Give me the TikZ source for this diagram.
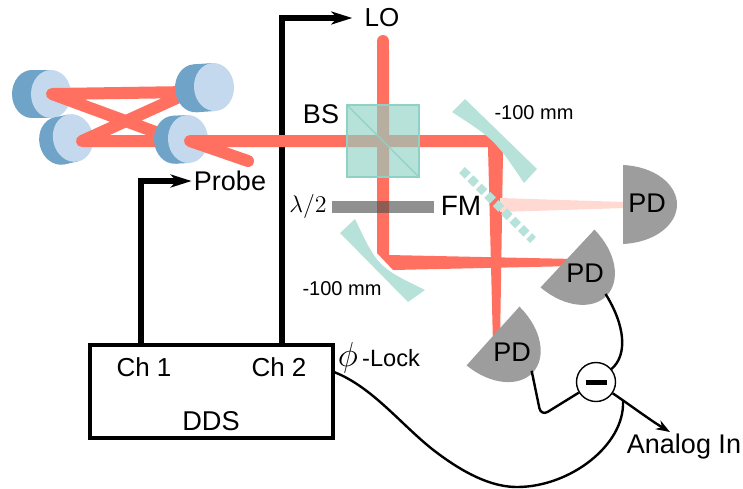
\documentclass[tikz,border=0pt]{standalone}
\usepackage{fontspec}
\setmainfont{Liberation Sans}
\usetikzlibrary{arrows.meta}

\definecolor{beamred}{HTML}{FF7060}
\definecolor{beampale}{HTML}{FFD9D2}
\definecolor{optteal}{RGB}{143,210,197}
\definecolor{mirteal}{HTML}{B7E2DA}
\definecolor{pdgray}{HTML}{9C9D9C}
\definecolor{cavback}{HTML}{6FA3C8}
\definecolor{cavfront}{HTML}{C5D9EE}

\tikzset{
  pics/cavmirror/.style={code={
    \fill[cavback] (-#1,0) ellipse (20 and 24);
    \fill[cavback] (-#1,-24) rectangle (0,24);
    \fill[cavfront] (0,0) ellipse (20 and 24);
  }},
  pics/photodiode/.style={code={
    \fill[pdgray] (0,-39.5) .. controls (32,-38) and (54,-20) .. (54,0)
      .. controls (54,20) and (32,38) .. (0,39.5) -- cycle;
    \coordinate (-out) at (52,0);
  }},
}

\begin{document}
\begin{tikzpicture}[
  x=0.5pt, y=-0.5pt,
  lbl/.style    ={inner sep=1pt, font=\fontsize{13}{15}\selectfont},
  big/.style    ={inner sep=1pt, font=\fontsize{13.5}{15}\selectfont},
  small/.style  ={inner sep=1pt, font=\fontsize{10}{12}\selectfont},
  beam/.style   ={draw=beamred, line width=6pt, line cap=round, line join=round},
  beamfill/.style={fill=beamred},
  rfline/.style ={line width=3pt, -{Stealth[length=10.5pt, width=6.5pt, inset=3pt]}},
  wire/.style   ={line width=1.2pt},
  ddsbox/.style ={draw, line width=1.7pt, minimum width=121.5pt, minimum height=46.5pt, inner sep=0pt},
  subnode/.style={draw, circle, fill=white, line width=0.7pt, minimum size=19.5pt, inner sep=0pt},
]
\useasboundingbox (0,0) rectangle (743,488);

\node[ddsbox] (dds) at (211.5,391.5) {};
\node[lbl] (ch1) at (144,367) {Ch 1};
\node[lbl] (ch2) at (279,367) {Ch 2};
\node[lbl, font=\fontsize{13.6}{15}\selectfont] (ddslbl) at (211,421) {DDS};
\node[big] (probe) at (230,181) {Probe};
\node[lbl] (lo) at (382,18) {LO};
\coordinate (ch1top) at (141,345);
\coordinate (ch2top) at (282,345);
\draw[rfline] (ch1top) |- (probe.west);
\draw[rfline, shorten >=5pt] (ch2top) |- (lo.west);

\pic at (51,94) {cavmirror=19};
\pic[rotate=12] at (73,138) {cavmirror=14};
\draw[beam] (190,92) -- (52,94) -- (180,141) -- (82,141) -- (190,92);
\pic[rotate=4] at (214,87) {cavmirror=19};
\pic[rotate=3] at (188,139) {cavmirror=14};
\draw[beam] (248,161) -- (190,141) -- (340,141);
\fill[beamfill] (340,135) -- (487,135) -- (503,152) -- (500,345) -- (493,345) -- (488,147) -- (340,147) -- cycle;
\draw[beam] (383,41) -- (383,60);
\fill[beamfill] (377,50) -- (377,253) -- (393,270) -- (575,266) -- (575,259) -- (389,255) -- (389,50) -- cycle;
\fill[beampale] (500,198) -- (625,202) -- (625,208) -- (500,212) -- cycle;

\fill[mirteal] (465,99) -- (537,169) -- (524,183) .. controls (495,140) .. (452,112) -- cycle;
\fill[mirteal] (355,219) .. controls (378,267) .. (425,290) -- (408,302) -- (340,233) -- cycle;
\draw[mirteal, line width=4.2pt, dash pattern=on 4pt off 1.9pt] (462,170) -- (533,240);

\draw[draw=optteal, fill=optteal, fill opacity=0.64, line width=0.7pt] (347,105) rectangle (419,177);
\draw[optteal, line width=0.7pt] (347,105) -- (419,177);
\fill[black!69, fill opacity=0.63] (332,201) rectangle (434,213);

\pic (pdtop) at (623,204.5) {photodiode};
\pic[rotate=-43] (pdmid) at (567.5,258.5) {photodiode};
\pic[rotate=-42] (pdlow) at (493,336) {photodiode};
\node[big] (pdtoplbl) at (647,203) {PD};
\node[big] (pdmidlbl) at (585,273) {PD};
\node[big] (pdlowlbl) at (512,352) {PD};

\node[subnode] (sub) at (596,382) {\rule{10.5pt}{2.5pt}};
\node[lbl, font=\fontsize{13.5}{15}\selectfont] (analog) at (684,447) {Analog In};
\draw[wire] (pdmid-out) .. controls (625,325) and (628,355) .. (sub);
\draw[wire, rounded corners=4pt] (pdlow-out) -- (541,416) -- (sub);
\draw[wire, -{Stealth[length=7pt, width=5pt]}] (sub) .. controls (630,405) and (650,420) .. (analog.north -| 670,436);
\coordinate (lockout) at (334,372);
\coordinate (lockend) at (623,401);
\draw[wire] (lockout) .. controls (375,388) and (405,430) .. (440,455)
  .. controls (470,477) and (495,487) .. (517,487)
  .. controls (570,487) and (625,445) .. (lockend);

\node[inner sep=0pt, font=\fontsize{17}{19}\selectfont] (philbl) at (348,358) {$\phi$};
\node[lbl, font=\fontsize{11.8}{14}\selectfont] (locklbl) at (391,358) {-Lock};
\node[big] (bslbl) at (321,114) {BS};
\node[lbl, font=\fontsize{11.5}{13}\selectfont] (halfwave) at (308,206) {$\lambda/2$};
\node[lbl, font=\fontsize{14}{15}\selectfont] (fmlbl) at (461,206) {FM};
\node[small] (focaltop) at (534,113) {-100 mm};
\node[small] (focallow) at (342,289) {-100 mm};
\end{tikzpicture}
\end{document}
